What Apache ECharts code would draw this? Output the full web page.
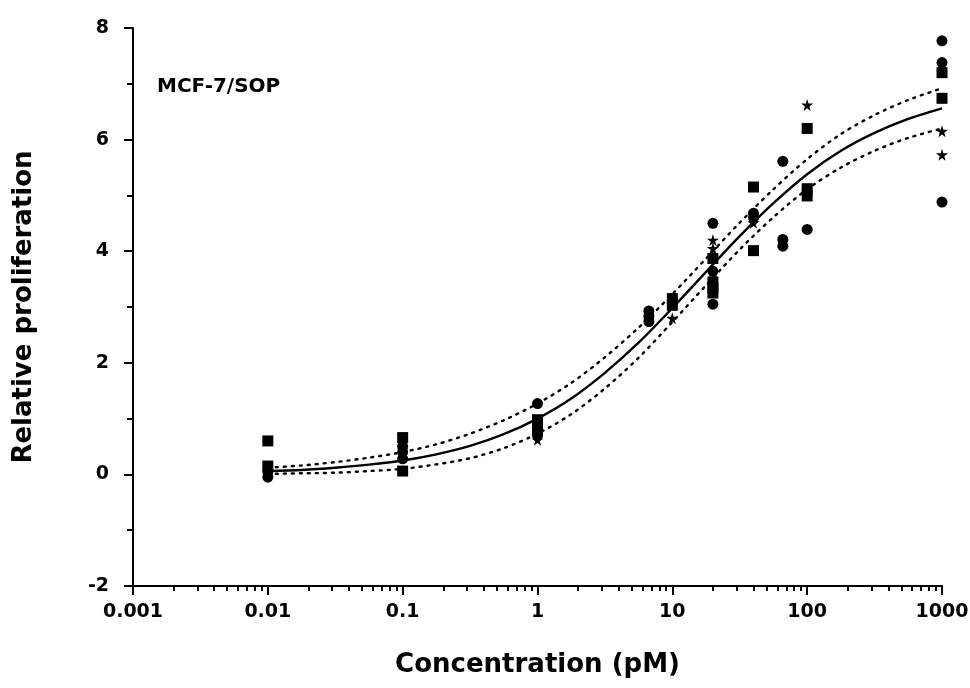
<!DOCTYPE html>
<html>
<head>
<meta charset="utf-8">
<script src="https://cdn.jsdelivr.net/npm/echarts@6/dist/echarts.min.js"></script>
<style>
html,body{margin:0;padding:0;background:#fff;}
#chart{width:970px;height:688px;}
</style>
</head>
<body>
<div id="chart"></div>
<script>
// ---- data ----
var xTickLabels = ['0.001', '0.01', '0.1', '1', '10', '100', '1000'];
var xMinorTicks = [0.002,0.003,0.004,0.005,0.006,0.007,0.008,0.009,
  0.02,0.03,0.04,0.05,0.06,0.07,0.08,0.09,
  0.2,0.3,0.4,0.5,0.6,0.7,0.8,0.9,
  2,3,4,5,6,7,8,9,
  20,30,40,50,60,70,80,90,
  200,300,400,500,600,700,800,900];

var squarePoints = [
  [0.01,0.60],[0.01,0.15],
  [0.1,0.66],[0.1,0.06],
  [1,0.98],[1,0.78],
  [10,3.15],[10,3.03],
  [20,3.87],[20,3.45],[20,3.35],[20,3.25],
  [40,5.15],[40,4.01],
  [100,6.20],[100,5.12],[100,4.99],
  [1000,7.20],[1000,6.74]
];
var circlePoints = [
  [0.01,0.05],[0.01,-0.05],
  [0.1,0.50],[0.1,0.40],[0.1,0.28],
  [1,1.27],[1,0.88],[1,0.70],
  [6.7,2.93],[6.7,2.83],[6.7,2.74],
  [20,4.50],[20,3.64],[20,3.05],
  [40,4.68],[40,4.60],
  [66,5.61],[66,4.21],[66,4.09],
  [100,4.39],
  [1000,7.77],[1000,7.38],[1000,4.88]
];
var starPoints = [
  [1,0.62],
  [10,2.80],
  [20,4.20],[20,4.05],
  [40,4.51],
  [100,6.62],
  [1000,6.15],[1000,5.73]
];

var curveX =     [0.01,0.0178,0.0316,0.0562,0.1,0.178,0.316,0.562,1,1.78,3.16,5.62,10,17.8,31.6,56.2,100,178,316,562,1000];
var curveFit =   [0.06,0.08,0.12,0.175,0.25,0.36,0.51,0.72,1.00,1.36,1.82,2.36,2.98,3.63,4.27,4.86,5.38,5.80,6.12,6.37,6.56];
var curveUpper = [0.12,0.16,0.22,0.30,0.40,0.54,0.73,0.97,1.27,1.64,2.10,2.63,3.23,3.87,4.51,5.11,5.65,6.10,6.44,6.71,6.92];
var curveLower = [0.01,0.02,0.03,0.06,0.10,0.18,0.29,0.47,0.73,1.08,1.54,2.09,2.73,3.39,4.03,4.61,5.11,5.50,5.80,6.03,6.20];

function pairs(xs, ys){ return xs.map(function(x,i){ return [x, ys[i]]; }); }

var FONT = '"DejaVu Sans", "Liberation Sans", Arial, sans-serif';
var starPath = 'path://M50,0 L61,35 L98,35 L68,57 L79,91 L50,70 L21,91 L32,57 L2,35 L39,35 Z';

var chart = echarts.init(document.getElementById('chart'), null, {renderer:'canvas'});
var option = {
  backgroundColor: '#ffffff',
  animation: false,
  grid: { left: 133, right: 28, top: 28, bottom: 102, outerBoundsMode: 'none', containLabel: false },
  xAxis: [{
    type: 'log', logBase: 10, min: 0.001, max: 1000,
    position: 'bottom',
    name: 'Concentration (pM)', nameLocation: 'middle', nameGap: 66,
    nameTextStyle: { fontFamily: FONT, fontWeight: 'bold', fontSize: 26, color: '#000' },
    axisLine: { show: true, onZero: false, lineStyle: { color: '#000', width: 2 } },
    axisTick: { show: true, inside: false, length: 9, lineStyle: { color: '#000', width: 2 } },
    axisLabel: {
      margin: 17, fontFamily: FONT, fontWeight: 'bold', fontSize: 19, color: '#000',
      showMinLabel: true, showMaxLabel: true,
      formatter: function(v){ var i = Math.round(Math.log10(v)) + 3; return xTickLabels[i] || ''; }
    },
    splitLine: { show: false }
  }, {
    type: 'log', logBase: 10, min: 0.001, max: 1000,
    position: 'bottom',
    axisLine: { show: false, onZero: false },
    axisTick: { show: true, inside: false, length: 5, customValues: xMinorTicks, lineStyle: { color: '#000', width: 2 } },
    axisLabel: { show: false },
    splitLine: { show: false }
  }],
  yAxis: {
    type: 'value', min: -2, max: 8, interval: 2,
    name: 'Relative proliferation', nameLocation: 'middle', nameGap: 96, nameRotate: 90,
    nameTextStyle: { fontFamily: FONT, fontWeight: 'bold', fontSize: 26, color: '#000' },
    axisLine: { show: true, onZero: false, lineStyle: { color: '#000', width: 2 } },
    axisTick: { show: true, inside: false, length: 9, lineStyle: { color: '#000', width: 2 } },
    minorTick: { show: true, splitNumber: 2, length: 6, lineStyle: { color: '#000', width: 2 } },
    axisLabel: { margin: 24, fontFamily: FONT, fontWeight: 'bold', fontSize: 19, color: '#000' },
    splitLine: { show: false }
  },
  graphic: [{
    type: 'text', left: 157, top: 77,
    style: { text: 'MCF-7/SOP', fontFamily: FONT, fontWeight: 'bold', fontSize: 20, fill: '#000' }
  }],
  series: [
    { type: 'line', xAxisIndex: 0, data: pairs(curveX, curveUpper), smooth: 0.3, symbol: 'none',
      lineStyle: { color: '#000', width: 2.4, type: [2, 6], cap: 'round' }, z: 2 },
    { type: 'line', xAxisIndex: 0, data: pairs(curveX, curveLower), smooth: 0.3, symbol: 'none',
      lineStyle: { color: '#000', width: 2.4, type: [2, 6], cap: 'round' }, z: 2 },
    { type: 'line', xAxisIndex: 0, data: pairs(curveX, curveFit), smooth: 0.3, symbol: 'none',
      lineStyle: { color: '#000', width: 2.4 }, z: 3 },
    { type: 'scatter', xAxisIndex: 0, data: squarePoints, symbol: 'rect', symbolSize: 11,
      itemStyle: { color: '#000', opacity: 1 }, z: 4 },
    { type: 'scatter', xAxisIndex: 0, data: circlePoints, symbol: 'circle', symbolSize: 11,
      itemStyle: { color: '#000', opacity: 1 }, z: 4 },
    { type: 'scatter', xAxisIndex: 0, data: starPoints, symbol: starPath, symbolSize: 12,
      itemStyle: { color: '#000', opacity: 1 }, z: 4 }
  ]
};
chart.setOption(option);
</script>
</body>
</html>
